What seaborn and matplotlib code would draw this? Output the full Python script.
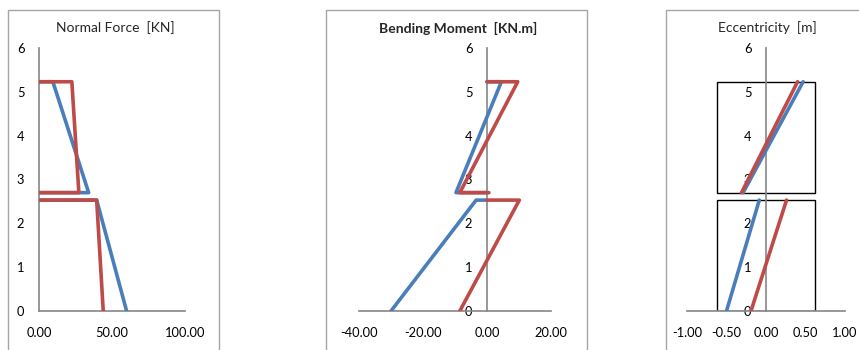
import numpy as np
import pandas as pd
import matplotlib
matplotlib.use('Agg')
import matplotlib.pyplot as plt
from matplotlib.patches import Rectangle
import seaborn as sns

# Heights of the column levels [m]
h_top = 5.23
h_mid_up = 2.70
h_mid_lo = 2.53
h_base = 0.0

# Normal force [KN] (series 1 = blue, series 2 = red)
n_blue_up = [0.0, 9.5, 34.0, 0.0]
n_red_up = [0.0, 22.5, 27.3, 0.0]
n_blue_lo = [0.0, 39.5, 60.0]
n_red_lo = [0.0, 39.5, 44.0]

# Bending moment [KN.m]
m_blue_up = [0.0, 4.5, -9.7, 0.0]
m_red_up = [0.0, 9.6, -8.5, 0.6]
m_blue_lo = [0.0, -3.4, -30.0]
m_red_lo = [0.0, 10.1, -8.5]

# Eccentricity [m]
e_blue_up = [-0.29, 0.47]
e_red_up = [-0.31, 0.40]
e_blue_lo = [-0.50, -0.085]
e_red_lo = [-0.19, 0.26]
e_limit = 0.625

y_up4 = [h_top, h_top, h_mid_up, h_mid_up]
y_lo3 = [h_mid_lo, h_mid_lo, h_base]

series_names = ['s1', 's2']
colors = {'s1': '#4A7EBB', 's2': '#BE4B48'}


def make_df(parts):
    rows = []
    for seg, (name, xs, ys) in enumerate(parts):
        for x, y in zip(xs, ys):
            rows.append({'x': x, 'y': y, 'series': name, 'seg': seg})
    return pd.DataFrame(rows)


df_n = make_df([('s1', n_blue_up, y_up4), ('s1', n_blue_lo, y_lo3),
                ('s2', n_red_up, y_up4), ('s2', n_red_lo, y_lo3)])
df_m = make_df([('s1', m_blue_up, y_up4), ('s1', m_blue_lo, y_lo3),
                ('s2', m_red_up, y_up4), ('s2', m_red_lo, y_lo3)])
df_e = make_df([('s1', e_blue_up, [h_mid_up, h_top]), ('s1', e_blue_lo, [h_base, h_mid_lo]),
                ('s2', e_red_up, [h_mid_up, h_top]), ('s2', e_red_lo, [h_base, h_mid_lo])])

sns.set_style('white')
plt.rcParams['font.family'] = ['Lato', 'DejaVu Sans']

W, H = 859, 350
fig = plt.figure(figsize=(W / 100, H / 100), dpi=100)

# chart area frames (pixels: left, right, top)
for l, r in [(8, 219), (326, 587), (666, 875)]:
    fig.add_artist(Rectangle((l / W, -0.1), (r - l) / W, (H - 10) / H + 0.1,
                             transform=fig.transFigure, fill=False,
                             edgecolor='#A6A6A6', lw=1.0))

bottom = (H - 311) / H
height = (311 - 48) / H
panels = [
    (df_n, 39, 185, (0, 100), [0, 50, 100], 'Normal Force  [KN]', 'normal', 115),
    (df_m, 359, 551, (-40, 20), [-40, -20, 0, 20], 'Bending Moment  [KN.m]', 'bold', 458),
    (df_e, 687, 845, (-1, 1), [-1, -0.5, 0, 0.5, 1], 'Eccentricity  [m]', 'normal', 767),
]

for df, x0, x1, xlim, xt, title, weight, tx in panels:
    ax = fig.add_axes([x0 / W, bottom, (x1 - x0) / W, height])
    if title.startswith('Ecc'):
        ax.add_patch(Rectangle((-e_limit, h_mid_up), 2 * e_limit, h_top - h_mid_up,
                               fill=False, edgecolor='black', lw=1.0, zorder=1))
        ax.add_patch(Rectangle((-e_limit, h_base), 2 * e_limit, h_mid_lo - h_base,
                               fill=False, edgecolor='black', lw=1.0, zorder=1))
    sns.lineplot(data=df, x='x', y='y', hue='series', units='seg', estimator=None,
                 sort=False, palette=colors, hue_order=series_names, lw=2.6,
                 legend=False, ax=ax, zorder=3)
    ax.set_xlim(*xlim)
    ax.set_ylim(0, 6)
    ax.set_xticks(xt)
    ax.set_xticklabels([f'{v:.2f}' for v in xt])
    ax.set_yticks(range(7))
    ax.set_xlabel('')
    ax.set_ylabel('')
    for s in ['top', 'right']:
        ax.spines[s].set_visible(False)
    ax.spines['left'].set_position(('data', 0))
    for s in ['left', 'bottom']:
        ax.spines[s].set_color('#868686')
        ax.spines[s].set_linewidth(1.2)
        ax.spines[s].set_zorder(2)
    ax.patch.set_alpha(0)
    ax.tick_params(axis='both', which='both', direction='out', length=3.5,
                   width=0.8, color='#868686', labelsize=9.3, labelcolor='black')
    ax.tick_params(axis='y', pad=7)
    ax.tick_params(axis='x', pad=8)
    fig.text(tx / W, (H - 28) / H, title, ha='center', va='center',
             fontsize=10, fontweight=weight)

fig.savefig('out.png', dpi=100)
